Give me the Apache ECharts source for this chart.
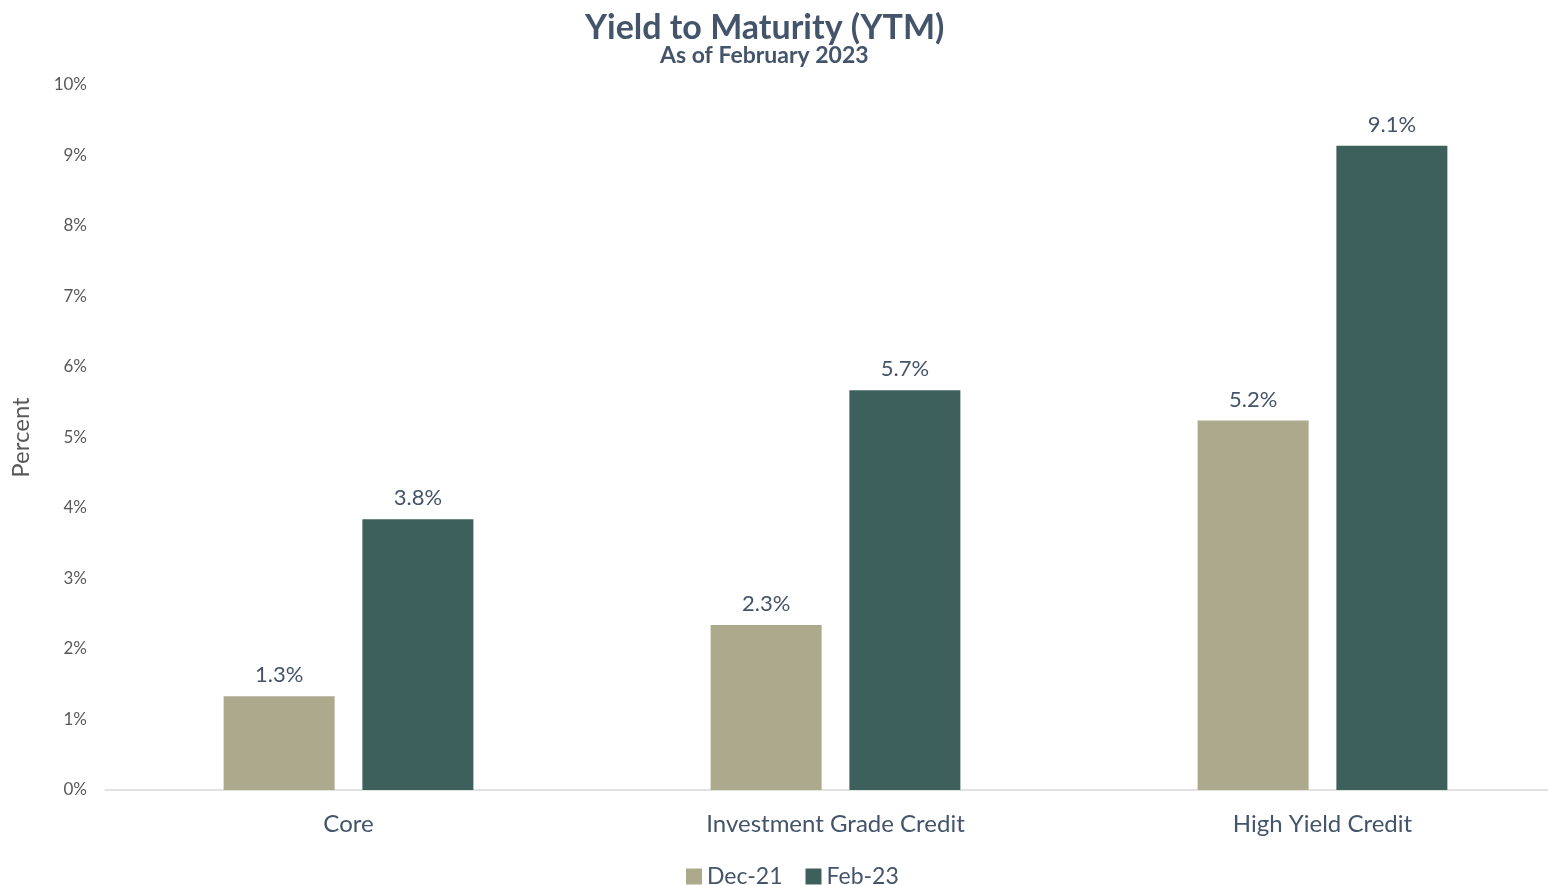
<!DOCTYPE html>
<html>
<head>
<meta charset="utf-8">
<script src="https://cdn.jsdelivr.net/npm/echarts@6/dist/echarts.min.js"></script>
<style>
  html, body { margin: 0; padding: 0; background: #fff; overflow: hidden; }
  /* plot runs slightly past the right edge of the window, as in the original */
  #chart { width: 1566px; height: 885px; }
</style>
</head>
<body>
<div id="chart"></div>
<script>
const categories = ['Core', 'Investment Grade Credit', 'High Yield Credit'];
const dec21 = [1.33, 2.34, 5.24];
const feb23 = [3.84, 5.67, 9.14];
const yTicks = [0, 10, 1]; // min, max, interval

const labelColor = '#44546A';

let chart = echarts.init(document.getElementById('chart'));
const option = {
  textStyle: { fontFamily: 'Lato' },
  title: [
    {
      text: 'Yield to Maturity (YTM)',
      left: 580,
      top: 6,
      textStyle: { color: labelColor, fontSize: 34, fontWeight: 'bold', fontFamily: 'Lato' }
    },
    {
      text: 'As of February 2023',
      left: 655,
      top: 39,
      textStyle: { color: labelColor, fontSize: 23, fontWeight: 'bold', fontFamily: 'Lato' }
    }
  ],
  legend: {
    top: 860,
    left: 681,
    itemWidth: 16,
    itemHeight: 16,
    itemGap: 23,
    icon: 'rect',
    textStyle: { color: labelColor, fontSize: 23 },
    data: ['Dec-21', 'Feb-23']
  },
  grid: { left: 105, right: 0, top: 85, bottom: 95 },
  xAxis: {
    type: 'category',
    data: categories,
    axisTick: { show: false },
    axisLine: { lineStyle: { color: '#D9D9D9', width: 1.5 } },
    axisLabel: { color: labelColor, fontSize: 24, margin: 22 }
  },
  yAxis: {
    type: 'value',
    min: yTicks[0],
    max: yTicks[1],
    interval: yTicks[2],
    name: 'Percent',
    nameLocation: 'middle',
    nameGap: 72,
    nameTextStyle: { color: '#595959', fontSize: 24 },
    splitLine: { show: false },
    axisLine: { show: false },
    axisTick: { show: false },
    axisLabel: { color: '#595959', fontSize: 17, margin: 18, formatter: '{value}%' }
  },
  series: [
    {
      name: 'Dec-21',
      type: 'bar',
      data: dec21,
      barWidth: 111,
      barGap: '25%',
      itemStyle: { color: '#ADA98D' },
      label: {
        show: true, position: 'top', distance: 10, color: labelColor, fontSize: 22,
        formatter: p => p.value.toFixed(1) + '%'
      }
    },
    {
      name: 'Feb-23',
      type: 'bar',
      data: feb23,
      barWidth: 111,
      barGap: '25%',
      itemStyle: { color: '#3E605D' },
      label: {
        show: true, position: 'top', distance: 10, color: labelColor, fontSize: 22,
        formatter: p => p.value.toFixed(1) + '%'
      }
    }
  ]
};
chart.setOption(option);
</script>
</body>
</html>
